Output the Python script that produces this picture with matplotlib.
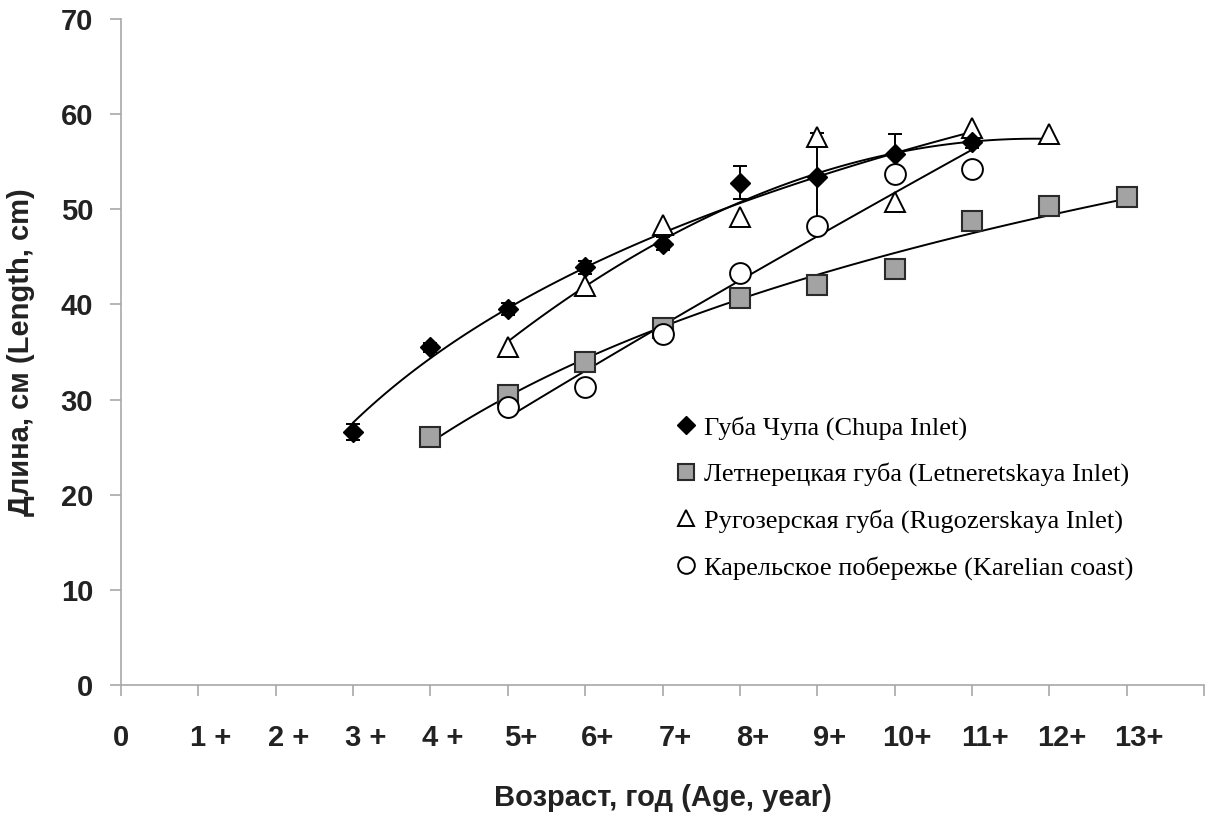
import numpy as np
import matplotlib.pyplot as plt
import matplotlib.transforms as mtransforms

# ages (years) and mean lengths (cm)
chupa_age = [3, 4, 5, 6, 7, 8, 9, 10, 11]
chupa_len = [26.6, 35.5, 39.5, 43.9, 46.4, 52.8, 53.4, 55.8, 57.1]
chupa_err = [0.8, 0.5, 0.6, 0.7, 0.7, 1.7, 4.6, 2.1, 0.7]

letn_age = [4, 5, 6, 7, 8, 9, 10, 11, 12, 13]
letn_len = [26.1, 30.5, 33.9, 37.5, 40.7, 42.0, 43.7, 48.8, 50.3, 51.3]

rugo_age = [5, 6, 7, 8, 9, 10, 11, 12]
rugo_len = [35.5, 41.9, 48.3, 49.2, 57.6, 50.8, 58.5, 57.9]

kar_age = [5, 6, 7, 8, 9, 10, 11]
kar_len = [29.2, 31.3, 36.9, 43.3, 48.2, 53.7, 54.2]

labels = [
    "Губа Чупа (Chupa Inlet)",
    "Летнерецкая губа (Letneretskaya Inlet)",
    "Ругозерская губа (Rugozerskaya Inlet)",
    "Карельское побережье (Karelian coast)",
]

x_ticklabels = ["0", "1 +", "2 +", "3 +", "4 +", "5+", "6+", "7+",
                "8+", "9+", "10+", "11+", "12+", "13+"]


def log_trend(x, y):
    # logarithmic trend line, as in the spreadsheet original
    x = np.asarray(x, float)
    b, a = np.polyfit(np.log(x), y, 1)
    xs = np.linspace(x.min(), x.max(), 100)
    return xs, a + b * np.log(xs)


def poly_trend(x, y, deg=2):
    x = np.asarray(x, float)
    c = np.polyfit(x, y, deg)
    xs = np.linspace(x.min(), x.max(), 100)
    return xs, np.polyval(c, xs)


def power_trend(x, y):
    x = np.asarray(x, float)
    b, a = np.polyfit(np.log(x), np.log(y), 1)
    xs = np.linspace(x.min(), x.max(), 100)
    return xs, np.exp(a) * xs ** b


fig = plt.figure(figsize=(12.08, 8.16), dpi=100)
ax = fig.add_axes([0.1002, 0.1605, 0.8965, 0.8162])

line_kw = dict(color="black", linewidth=1.4, zorder=2)

# trend lines
ax.plot(*log_trend(chupa_age, chupa_len), **line_kw)
ax.plot(*log_trend(letn_age, letn_len), **line_kw)
ax.plot(*poly_trend(rugo_age, rugo_len), **line_kw)
ax.plot(*power_trend(kar_age, kar_len), **line_kw)

# points
ax.errorbar(chupa_age, chupa_len, yerr=chupa_err, fmt="none", ecolor="black",
            elinewidth=1.4, capsize=5, capthick=1.4, zorder=3)
ax.plot(chupa_age, chupa_len, linestyle="none", marker="D", markersize=10,
        color="black", zorder=5, label=labels[0])
ax.plot(letn_age, letn_len, linestyle="none", marker="s", markersize=15,
        markerfacecolor="#a3a3a3", markeredgecolor="#2a2a2a",
        markeredgewidth=1.5, zorder=4, label=labels[1])
ax.plot(rugo_age, rugo_len, linestyle="none", marker="^", markersize=15,
        markerfacecolor="white", markeredgecolor="black",
        markeredgewidth=1.4, zorder=4, label=labels[2])
ax.plot(kar_age, kar_len, linestyle="none", marker="o", markersize=15,
        markerfacecolor="white", markeredgecolor="black",
        markeredgewidth=1.4, zorder=4, label=labels[3])

ax.set_xlim(0, 14)
ax.set_ylim(0, 70)

for side in ["top", "right"]:
    ax.spines[side].set_visible(False)
for side in ["left", "bottom"]:
    ax.spines[side].set_color("#a8a8a8")
    ax.spines[side].set_linewidth(1.2)

ax.set_yticks(range(0, 71, 10))
ax.set_xticks(range(15))
ax.set_xticklabels(x_ticklabels + [""])
ax.tick_params(axis="both", colors="#a8a8a8", length=8, width=1.2,
               labelcolor="#222222", labelsize=21)
ax.tick_params(axis="x", pad=20)
ax.tick_params(axis="y", pad=12)
for lab in ax.get_xticklabels() + ax.get_yticklabels():
    lab.set_fontweight("bold")
    lab.set_family("Liberation Sans")

# labels sit a little to the right of their ticks
shift = mtransforms.ScaledTranslation(12.5 / 100, 0, fig.dpi_scale_trans)
for lab, txt in zip(ax.get_xticklabels(), x_ticklabels):
    if txt != "0":
        lab.set_transform(lab.get_transform() + shift)

ax.set_ylabel("Длина, см (Length, cm)", fontsize=21, fontweight="bold",
              family="Liberation Sans", color="#222222")
ax.yaxis.set_label_coords(-0.079, 0.5)
ax.set_xlabel("Возраст, год (Age, year)", fontsize=21, fontweight="bold",
              family="Liberation Sans", color="#222222")
ax.xaxis.set_label_coords(0.5, -0.148)

leg = ax.legend(loc="upper left", bbox_to_anchor=(0.505, 0.42), frameon=False,
                handlelength=0.6, handletextpad=0.35, labelspacing=0.86,
                borderaxespad=0,
                prop={"family": "Liberation Serif", "size": 19})
for h in leg.legend_handles:
    h.set_markersize(12)
leg.legend_handles[0].set_markersize(9)

fig.savefig("out.png", dpi=100)
